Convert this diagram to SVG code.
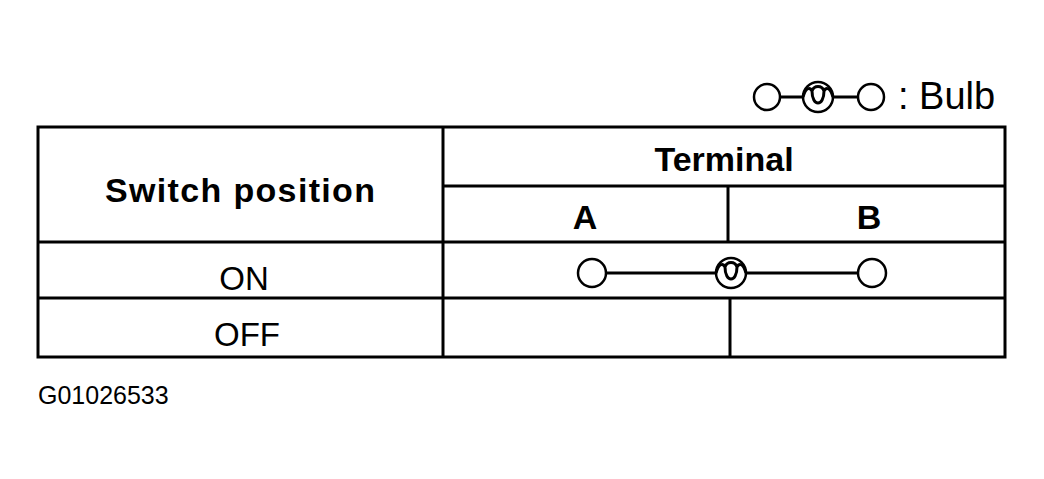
<svg xmlns="http://www.w3.org/2000/svg" width="1044" height="479" viewBox="0 0 1044 479">
<style>
.l{stroke:#000;stroke-width:3;fill:none}
.c{stroke:#000;stroke-width:2.5;fill:#fff}
.t{font-family:"Liberation Sans",Arial,sans-serif;fill:#000}
.b{font-weight:bold;font-size:34px}
.n{font-size:33px}
</style>
<defs>
<g id="bulb">
<circle r="15" class="c"/>
<path class="l" d="M-15,0 C-12,-10 -8,-10 -6,-6 C-6,10 6,10 6,-6 C8,-10 12,-10 15,0 M-6,-6 C-4,-12 4,-12 6,-6" stroke-width="2.5"/>
</g>
</defs>
<rect width="1044" height="479" fill="#fff"/>
<g id="legend">
<line class="l" x1="780" y1="97" x2="858" y2="97"/>
<circle cx="767" cy="97" r="13" class="c"/>
<use href="#bulb" x="818" y="97"/>
<circle cx="871" cy="97" r="13" class="c"/>
<text x="898" y="109" class="t" font-size="38">: Bulb</text>
</g>
<g id="table">
<rect x="38" y="127" width="967" height="230" class="l"/>
<line class="l" x1="443" y1="127" x2="443" y2="357"/>
<line class="l" x1="443" y1="186" x2="1005" y2="186"/>
<line class="l" x1="38" y1="242" x2="1005" y2="242"/>
<line class="l" x1="38" y1="298" x2="1005" y2="298"/>
<line class="l" x1="728" y1="186" x2="728" y2="242"/>
<line class="l" x1="730" y1="298" x2="730" y2="357"/>
<text x="240" y="202" text-anchor="middle" class="t b" textLength="270">Switch position</text>
<text x="724" y="171" text-anchor="middle" class="t b">Terminal</text>
<text x="585" y="229" text-anchor="middle" class="t b">A</text>
<text x="869" y="229" text-anchor="middle" class="t b">B</text>
<text x="244" y="290" text-anchor="middle" class="t n">ON</text>
<text x="247" y="346" text-anchor="middle" class="t n">OFF</text>
</g>
<g id="connectors">
<line class="l" x1="606" y1="273" x2="858" y2="273" stroke-width="2.5"/>
<circle cx="592" cy="273" r="14" class="c"/>
<use href="#bulb" x="731" y="273"/>
<circle cx="872" cy="273" r="14" class="c"/>
</g>
<text x="38" y="404" class="t" font-size="25">G01026533</text>
</svg>
